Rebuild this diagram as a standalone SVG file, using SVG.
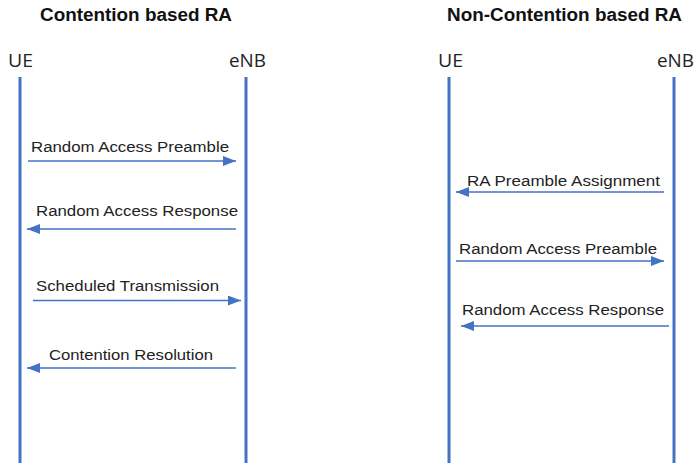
<svg xmlns="http://www.w3.org/2000/svg" width="697" height="463" viewBox="0 0 697 463">
<style>
.title{font-family:"Liberation Sans",Arial,sans-serif;font-weight:bold;font-size:17.5px;fill:#111}
.actor{font-family:"Open Sans","Liberation Sans",sans-serif;font-size:18px;fill:#222}
.msg{font-family:"Liberation Sans",Arial,sans-serif;font-size:15.5px;fill:#222}
.life{stroke:#4472C4;stroke-width:3}
.arr{stroke:#4472C4;stroke-width:1.3;fill:none;marker-end:url(#ah)}
</style>
<defs>
<marker id="ah" markerUnits="userSpaceOnUse" markerWidth="13" markerHeight="10" refX="13" refY="5" orient="auto">
<path d="M0,0 L13,5 L0,10 z" fill="#4472C4"/>
</marker>
</defs>
<rect width="697" height="463" fill="#fff"/>
<text class="title" x="40" y="21" textLength="192" lengthAdjust="spacingAndGlyphs">Contention based RA</text>
<text class="title" x="447" y="21" textLength="235" lengthAdjust="spacingAndGlyphs">Non-Contention based RA</text>
<g id="ue1"><text class="actor" x="8" y="66.5" textLength="25" lengthAdjust="spacingAndGlyphs">UE</text><line class="life" x1="20" y1="77" x2="20" y2="463"/></g>
<g id="enb1"><text class="actor" x="229" y="66.5" textLength="37" lengthAdjust="spacingAndGlyphs">eNB</text><line class="life" x1="246" y1="77" x2="246" y2="463"/></g>
<g id="ue2"><text class="actor" x="438" y="66.5" textLength="25" lengthAdjust="spacingAndGlyphs">UE</text><line class="life" x1="449" y1="77" x2="449" y2="463"/></g>
<g id="enb2"><text class="actor" x="657" y="66.5" textLength="37" lengthAdjust="spacingAndGlyphs">eNB</text><line class="life" x1="674" y1="77" x2="674" y2="463"/></g>
<g id="connectors">
<line class="arr" x1="28" y1="161" x2="236" y2="161"/>
<line class="arr" x1="236" y1="229" x2="27" y2="229"/>
<line class="arr" x1="33" y1="300.5" x2="241" y2="300.5"/>
<line class="arr" x1="236" y1="368" x2="27" y2="368"/>
<line class="arr" x1="664" y1="192" x2="456" y2="192"/>
<line class="arr" x1="456" y1="261" x2="664" y2="261"/>
<line class="arr" x1="669" y1="326" x2="461" y2="326"/>
</g>
<g id="labels">
<text class="msg" x="31" y="152" textLength="198" lengthAdjust="spacingAndGlyphs">Random Access Preamble</text>
<text class="msg" x="36" y="216" textLength="202" lengthAdjust="spacingAndGlyphs">Random Access Response</text>
<text class="msg" x="36" y="291" textLength="183" lengthAdjust="spacingAndGlyphs">Scheduled Transmission</text>
<text class="msg" x="49" y="359.5" textLength="164" lengthAdjust="spacingAndGlyphs">Contention Resolution</text>
<text class="msg" x="467" y="186" textLength="193" lengthAdjust="spacingAndGlyphs">RA Preamble Assignment</text>
<text class="msg" x="459" y="254" textLength="198" lengthAdjust="spacingAndGlyphs">Random Access Preamble</text>
<text class="msg" x="462" y="315" textLength="202" lengthAdjust="spacingAndGlyphs">Random Access Response</text>
</g>
</svg>
